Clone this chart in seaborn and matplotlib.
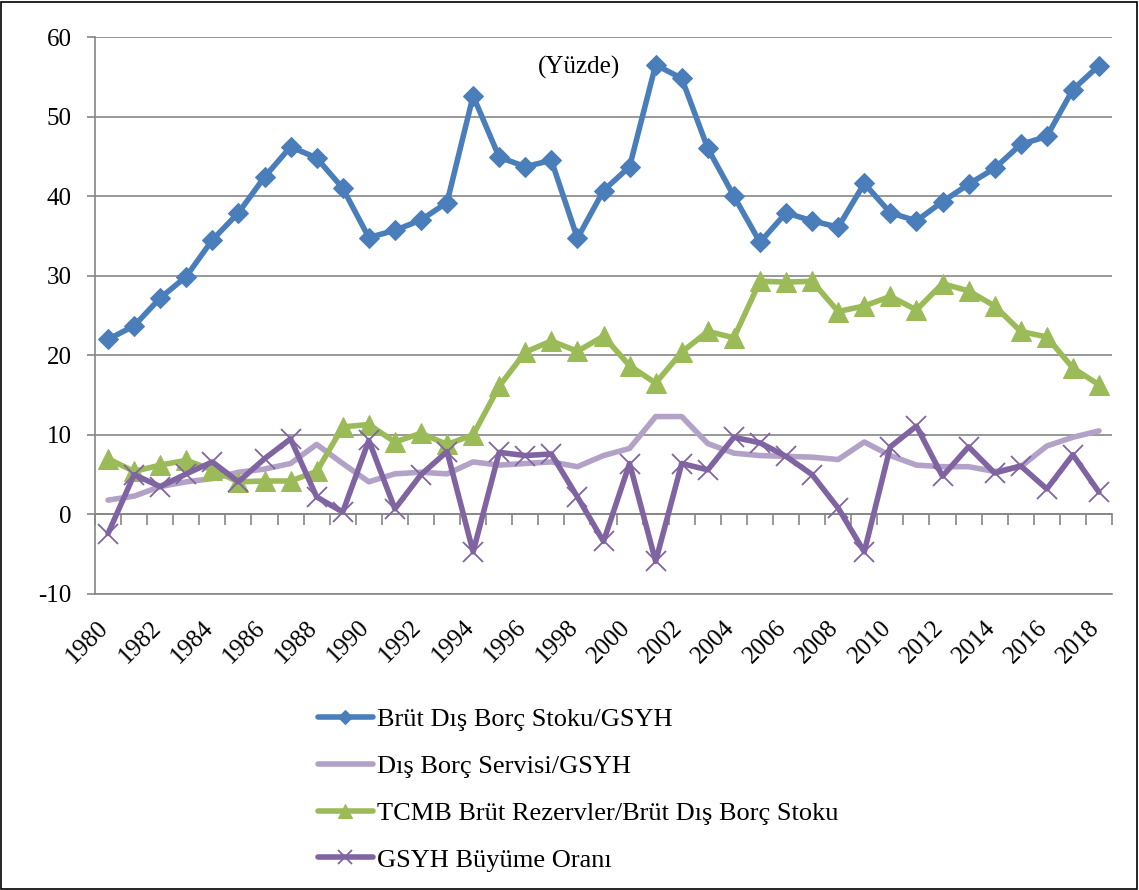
import numpy as np
import pandas as pd
import matplotlib
matplotlib.use("Agg")
import matplotlib.pyplot as plt
import matplotlib.transforms as mtransforms
import seaborn as sns
from matplotlib.patches import Rectangle

yillar = list(range(1980, 2019))

borc_stoku = [22.0, 23.7, 27.2, 29.9, 34.5, 37.9, 42.4, 46.2, 44.8, 41.0,
              34.8, 35.7, 37.0, 39.2, 52.6, 44.9, 43.7, 44.5, 34.7, 40.7,
              43.7, 56.5, 54.8, 46.0, 40.0, 34.2, 37.9, 36.9, 36.1, 41.6,
              37.9, 36.9, 39.3, 41.5, 43.5, 46.5, 47.5, 53.4, 56.4]

borc_servisi = [1.8, 2.3, 3.5, 4.1, 4.5, 5.3, 5.7, 6.4, 8.8, 6.4,
                4.1, 5.1, 5.3, 5.1, 6.6, 6.2, 6.4, 6.6, 6.0, 7.4,
                8.3, 12.3, 12.3, 8.9, 7.7, 7.4, 7.3, 7.2, 6.9, 9.1,
                7.4, 6.2, 6.0, 6.0, 5.4, 6.0, 8.6, 9.7, 10.5]

rezervler = [7.0, 5.4, 6.2, 6.8, 5.6, 4.1, 4.2, 4.2, 5.4, 11.0,
             11.3, 9.1, 10.2, 8.8, 10.0, 16.1, 20.4, 21.8, 20.5, 22.4,
             18.7, 16.5, 20.4, 23.0, 22.2, 29.3, 29.2, 29.3, 25.5, 26.2,
             27.4, 25.7, 29.0, 28.1, 26.2, 23.0, 22.3, 18.4, 16.3]

buyume = [-2.4, 5.0, 3.5, 5.1, 6.6, 4.1, 7.0, 9.5, 2.2, 0.3,
          9.3, 0.7, 5.0, 7.9, -4.7, 7.8, 7.4, 7.6, 2.2, -3.4,
          6.4, -5.9, 6.4, 5.6, 9.7, 9.0, 7.3, 5.0, 0.8, -4.7,
          8.5, 11.1, 4.8, 8.5, 5.2, 6.1, 3.2, 7.5, 2.8]

seriler = ["Brüt Dış Borç Stoku/GSYH", "Dış Borç Servisi/GSYH",
           "TCMB Brüt Rezervler/Brüt Dış Borç Stoku", "GSYH Büyüme Oranı"]

sns.set_style("white")
plt.rcParams["font.family"] = ["Liberation Serif", "DejaVu Serif"]
plt.rcParams["axes.unicode_minus"] = False
plt.rcParams["text.color"] = "black"
plt.rcParams["xtick.labelcolor"] = "black"
plt.rcParams["ytick.labelcolor"] = "black"

fig = plt.figure(figsize=(11.39, 8.9), dpi=100)
ax = fig.add_axes([95 / 1139, 1 - 594 / 890, (1112 - 95) / 1139, (594 - 37) / 890])

grid_renk = "#868686"

sns.lineplot(x=yillar, y=borc_stoku, ax=ax, color="#4A7EBB", lw=4,
             marker="D", ms=10, mec="#4A7EBB", label=seriler[0])
sns.lineplot(x=yillar, y=borc_servisi, ax=ax, color="#B3A2C7", lw=4,
             label=seriler[1])
sns.lineplot(x=yillar, y=rezervler, ax=ax, color="#9BBB59", lw=4,
             marker="^", ms=14, mec="#9BBB59", label=seriler[2])
sns.lineplot(x=yillar, y=buyume, ax=ax, color="#8064A2", lw=4,
             marker="x", ms=14, mew=1.3, mec="#8064A2", label=seriler[3])

ax.set_xlim(1979.5, 2018.5)
ax.set_ylim(-10, 60)
ax.set_yticks(range(-10, 61, 10))
ax.yaxis.grid(True, color=grid_renk, lw=1.2)
ax.set_axisbelow(True)

for s in ["top", "right"]:
    ax.spines[s].set_visible(False)
ax.spines["left"].set_color(grid_renk)
ax.spines["left"].set_linewidth(1.2)
ax.spines["bottom"].set_color(grid_renk)
ax.spines["bottom"].set_linewidth(1.2)

ax.tick_params(axis="y", direction="out", length=6, color=grid_renk, width=1.2,
               labelsize=18, pad=11, left=True, labelcolor="black")
ax.set_xticks(yillar[::2])
ax.set_xticklabels([str(y) for y in yillar[::2]], rotation=45, ha="right", va="top")
ax.tick_params(axis="x", length=0, labelsize=18, pad=16, labelcolor="black")
kaydir = mtransforms.ScaledTranslation(5 / 100, 0, fig.dpi_scale_trans)
for etiket in ax.get_xticklabels():
    etiket.set_transform(etiket.get_transform() + kaydir)

# x ekseni 0 seviyesinde, yıllar arasında tik işaretleri
sifir = ax.secondary_xaxis(10 / 70)
sifir.set_xticks(np.arange(1979.5, 2019, 1))
sifir.tick_params(axis="x", direction="out", length=8, color=grid_renk, width=1.2,
                  labelbottom=False, labeltop=False)
sifir.spines["bottom"].set_color(grid_renk)
sifir.spines["bottom"].set_linewidth(1.2)
for s in ["top", "left", "right"]:
    if s in sifir.spines:
        sifir.spines[s].set_visible(False)

ax.set_xlabel("")
ax.set_ylabel("")

fig.text(579 / 1139, 1 - 67 / 890, "(Yüzde)", ha="center", va="center",
         fontsize=18, color="black")

leg = ax.legend(loc="upper left", bbox_to_anchor=(318 / 1139, 1 - 708 / 890),
                bbox_transform=fig.transFigure, frameon=False, fontsize=19,
                handlelength=2.08, handletextpad=0.15, labelspacing=0.88, borderpad=0,
                borderaxespad=0, markerscale=0.7)
for t in leg.get_texts():
    t.set_color("black")

fig.patches.append(Rectangle((1 / 1139, 1 / 890), 1136 / 1139, 887 / 890,
                             transform=fig.transFigure, fill=False,
                             edgecolor="black", lw=1.2))

fig.savefig("out.png", dpi=100)
